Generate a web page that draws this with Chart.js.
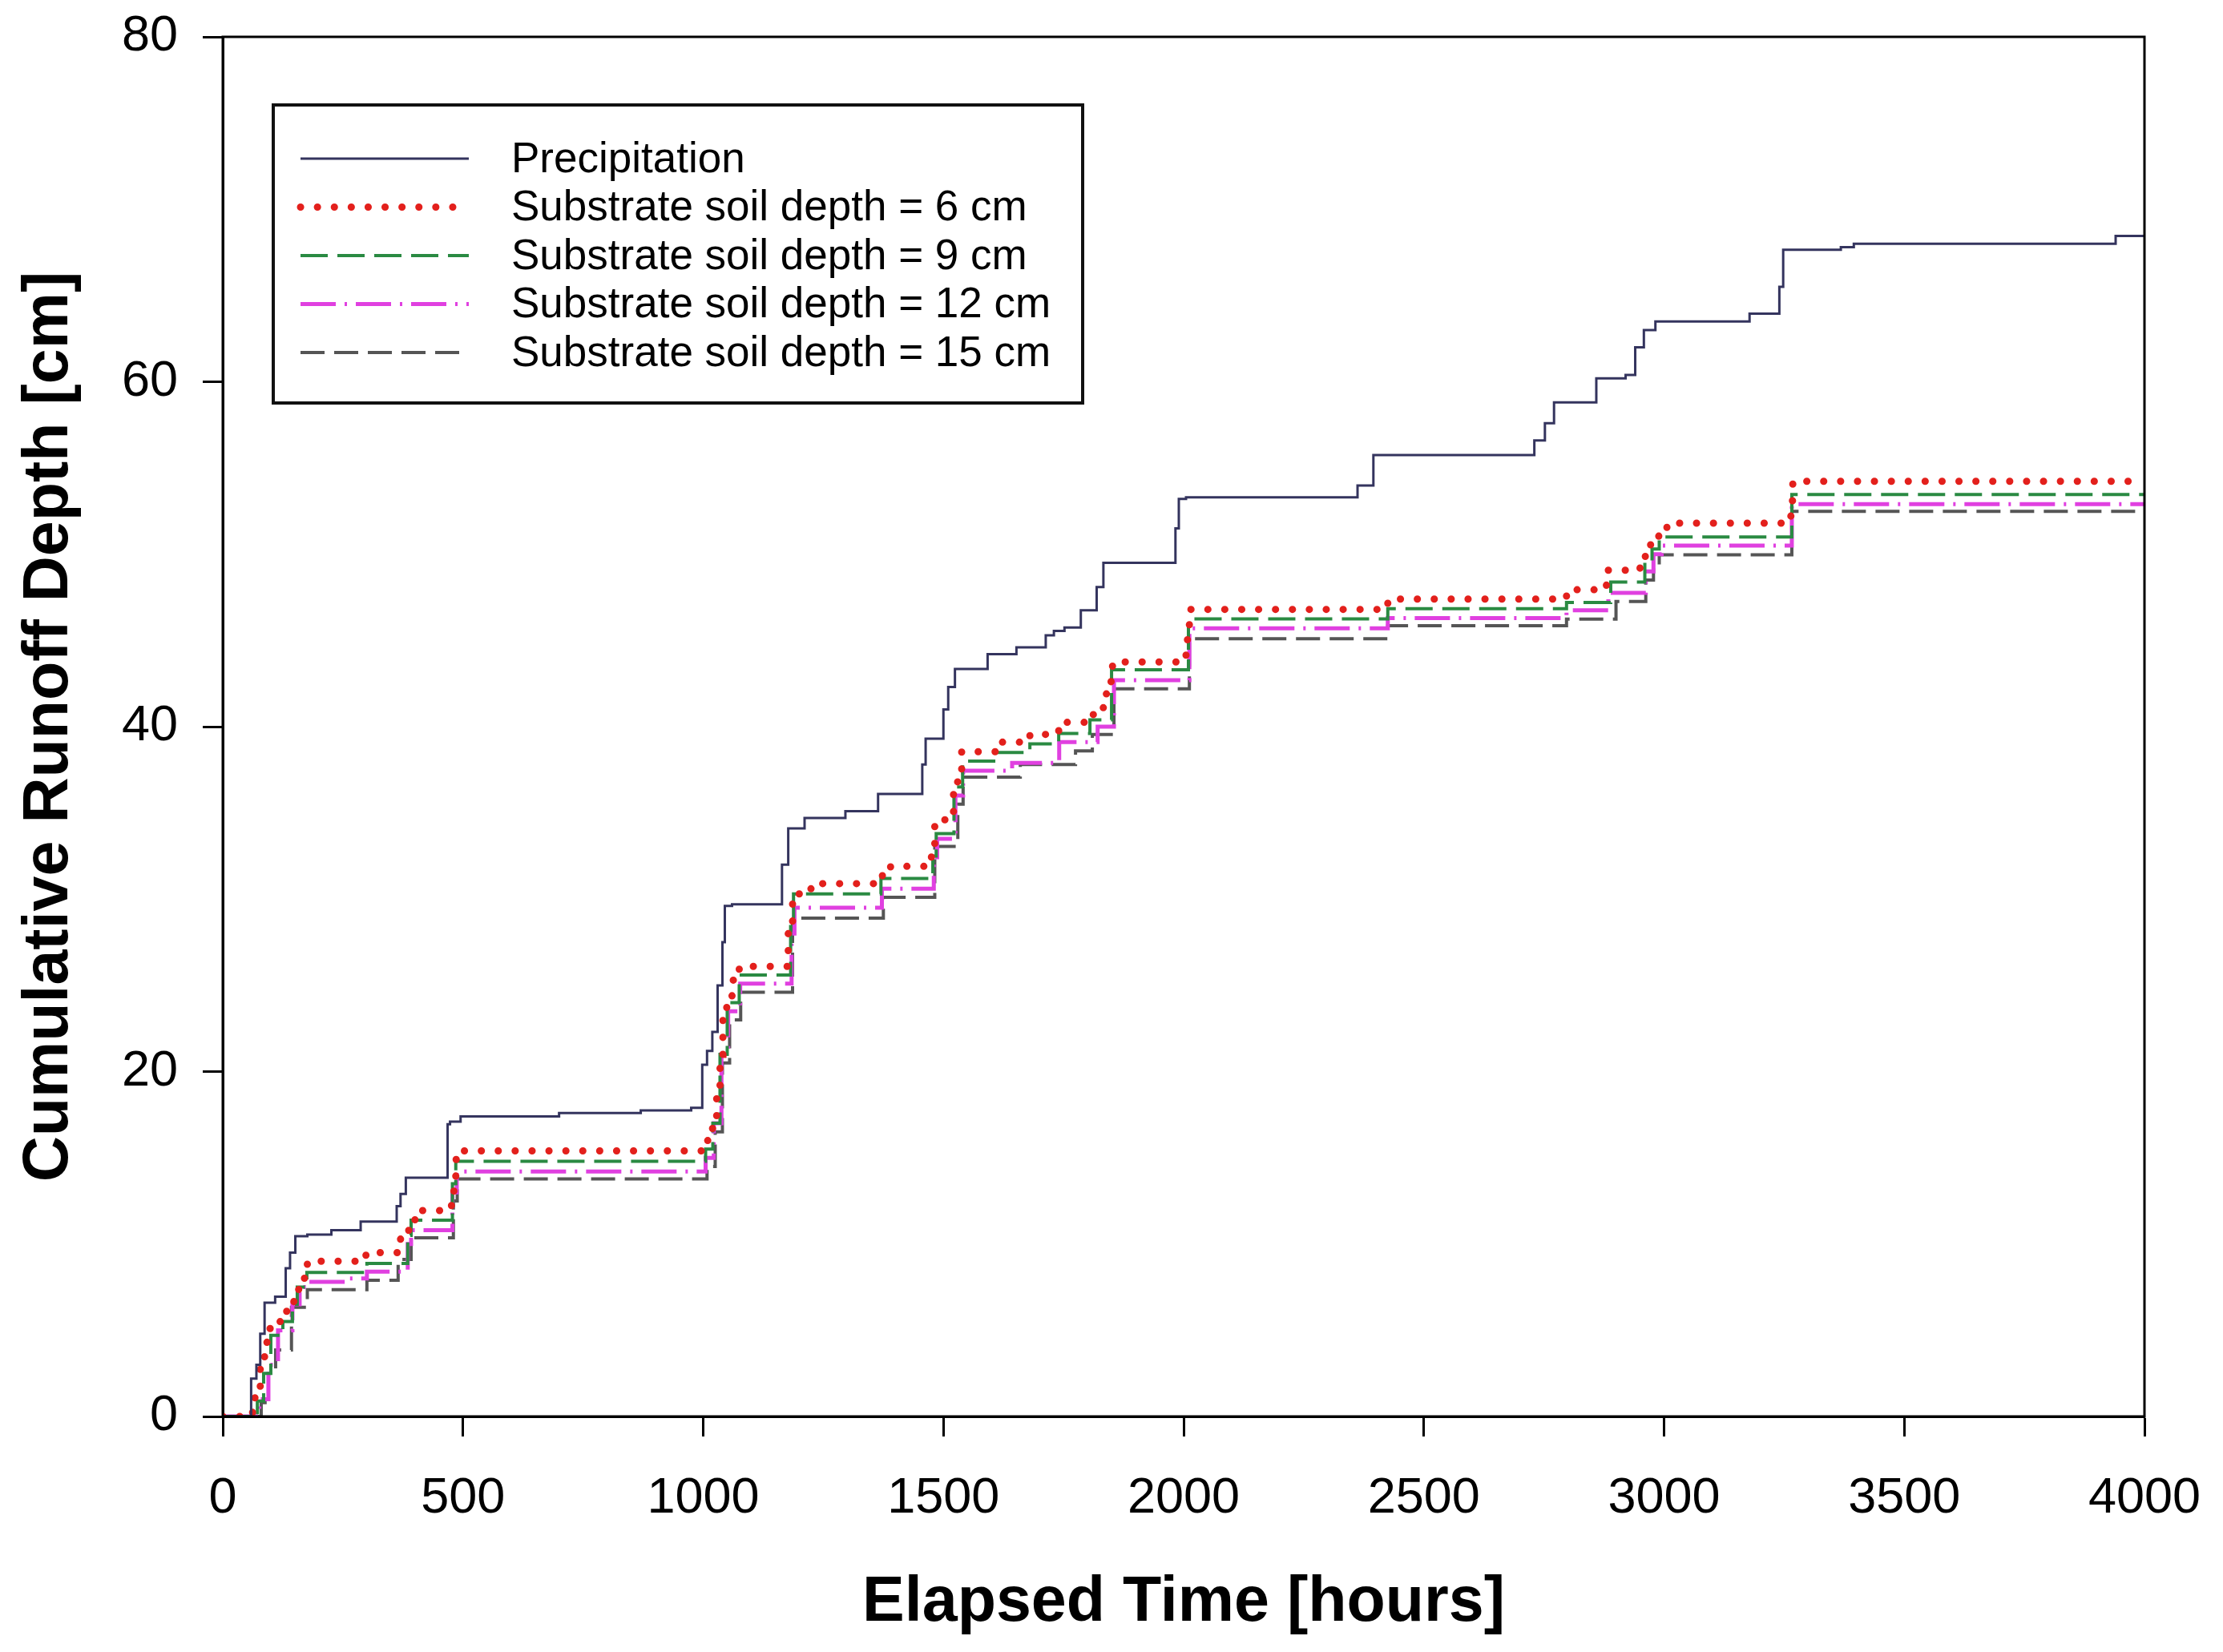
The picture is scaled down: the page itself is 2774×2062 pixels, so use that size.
<!DOCTYPE html>
<html>
<head>
<meta charset="utf-8">
<script src="https://cdn.jsdelivr.net/npm/chart.js@4.4.1/dist/chart.umd.min.js"></script>
<style>
html,body{margin:0;padding:0;background:#fff;}
canvas{display:block;}
</style>
</head>
<body>
<canvas id="c" width="2774" height="2062" style="width:2774px;height:2062px"></canvas>
<script>
// ---------------- DATA (elapsed time [h], cumulative depth [cm]) ----------------
const seriesLabels = [
  'Precipitation',
  'Substrate soil depth = 6 cm',
  'Substrate soil depth = 9 cm',
  'Substrate soil depth = 12 cm',
  'Substrate soil depth = 15 cm'
];

const precipT = [0,59,70,78,87,109,131,140,151,176,226,287,362,370,381,468,473,495,700,870,975,998,1008,1019,1030,1040,1045,1060,1164,1177,1211,1296,1364,1456,1463,1500,1510,1524,1592,1652,1713,1730,1752,1786,1819,1833,1983,1990,2005,2362,2395,2730,2752,2771,2859,2920,2940,2958,2982,3178,3240,3248,3368,3395,3940,4000];
const precipV = [0,2.2,3.0,4.8,6.6,6.95,8.6,9.5,10.45,10.55,10.8,11.3,12.2,12.9,13.85,16.95,17.1,17.4,17.6,17.75,17.9,20.4,21.2,22.3,25.0,27.5,29.6,29.7,32.0,34.1,34.7,35.1,36.1,37.8,39.3,41.0,42.3,43.35,44.2,44.6,45.3,45.55,45.75,46.75,48.1,49.5,51.5,53.2,53.3,53.98,55.75,56.6,57.6,58.8,60.2,60.4,62.0,63.0,63.5,63.95,65.5,67.65,67.8,68.0,68.45,68.45];

const d6T = [0,62,67,78,87,92,115,133,148,158,170,176,298,370,387,400,476,485,495,1005,1017,1028,1035,1041,1049,1060,1075,1177,1186,1211,1230,1373,1390,1475,1482,1521,1530,1538,1620,1680,1740,1805,1824,1838,1849,1852,2005,2008,2012,2425,2797,2880,2950,2961,2972,2989,3006,3264,3268,4000];
const d6V = [0,0.3,1.2,2.8,4.1,5.1,5.5,6.3,7.1,7.9,8.73,9.0,9.5,10.6,11.4,11.94,13.07,14.9,15.4,16.0,16.7,18.7,21.0,23.1,24.2,25.3,26.1,28.5,30.3,30.6,30.9,31.4,31.9,33.0,34.6,36.8,37.5,38.55,39.1,39.55,40.25,40.7,41.1,41.9,42.7,43.75,44.5,45.4,46.8,47.4,47.94,49.07,49.3,50.08,51.0,51.5,51.8,53.1,54.23,54.23];

const d9T = [0,72,85,100,125,145,155,175,300,385,392,478,485,1005,1020,1035,1050,1075,1182,1188,1370,1478,1485,1522,1540,1612,1680,1740,1805,1850,2010,2425,2797,2889,2960,2975,2990,3266,4000];
const d9V = [0,0.9,2.5,4.7,5.5,6.5,7.5,8.35,8.87,10.5,11.38,13.5,14.8,15.5,17.0,21.0,24.0,25.6,28.5,30.3,31.2,32.5,33.8,36.5,38.0,38.5,39.0,39.6,40.4,43.3,46.25,46.84,47.2,48.38,49.5,50.3,51.0,53.46,53.46];

const d12T = [0,76,95,115,145,160,180,255,300,385,392,478,487,1005,1022,1038,1052,1077,1184,1190,1372,1480,1487,1525,1541,1643,1741,1821,1855,2012,2425,2797,2884,2962,2978,2995,3266,4000];
const d12V = [0,1.0,3.0,5.0,6.5,7.5,7.8,8.0,8.4,10.0,10.8,13.0,14.2,15.0,17.0,21.0,23.5,25.1,28.0,29.5,30.6,32.0,33.5,36.0,37.45,37.9,39.1,40.0,42.7,45.7,46.3,46.75,47.76,49.0,50.0,50.5,52.9,52.9];

const d15T = [0,80,95,110,143,176,300,365,392,480,488,1008,1025,1040,1055,1078,1186,1375,1482,1530,1541,1660,1775,1810,1855,2012,2425,2797,2900,2962,2978,2990,3266,4000];
const d15V = [0,0.8,2.5,3.86,6.33,7.35,7.9,9.1,10.36,12.5,13.77,14.5,16.5,20.5,23.0,24.6,28.9,30.1,33.05,35.5,37.07,37.8,38.6,39.55,42.2,45.1,45.85,46.24,47.26,48.5,49.3,49.96,52.48,52.48];

const xTickValues = [0,500,1000,1500,2000,2500,3000,3500,4000];
const yTickValues = [0,20,40,60,80];
const xTitle = 'Elapsed Time [hours]';
const yTitle = 'Cumulative Runoff Depth [cm]';

// ---------------- build ----------------
const pts = (T, V) => T.map((t, i) => ({x: t, y: V[i]}));
const FONT = '"Liberation Sans", Arial, Helvetica, sans-serif';

const styles = [
  {borderColor:'#34345e', borderWidth:3, borderDash:[], borderCapStyle:'butt'},
  {borderColor:'#e3201c', borderWidth:9, borderDash:[0.1, 21], borderCapStyle:'round'},
  {borderColor:'#2a8a42', borderWidth:4, borderDash:[34, 12], borderCapStyle:'butt'},
  {borderColor:'#e040e0', borderWidth:5, borderDash:[44, 11, 3, 11], borderCapStyle:'butt'},
  {borderColor:'#555555', borderWidth:4, borderDash:[30, 12], borderCapStyle:'butt'}
];
const seriesData = [pts(precipT, precipV), pts(d6T, d6V), pts(d9T, d9V), pts(d12T, d12V), pts(d15T, d15V)];

const datasets = seriesLabels.map((lab, i) => Object.assign({
  label: lab,
  data: seriesData[i],
  stepped: true,
  pointRadius: 0,
  fill: false,
  tension: 0
}, styles[i]));

// frame (top/right box lines)
const framePlugin = {
  id: 'frame',
  afterDatasetsDraw(chart) {
    const {ctx, chartArea: a} = chart;
    ctx.save();
    ctx.strokeStyle = '#000';
    ctx.lineWidth = 3;
    ctx.strokeRect(a.left, a.top, a.right - a.left, a.bottom - a.top);
    ctx.restore();
  }
};

// legend box inside plot
const legendPlugin = {
  id: 'boxLegend',
  afterDraw(chart) {
    const ctx = chart.ctx;
    const box = {left: 341, top: 131, right: 1351, bottom: 503};
    ctx.save();
    ctx.fillStyle = '#fff';
    ctx.fillRect(box.left, box.top, box.right - box.left, box.bottom - box.top);
    ctx.strokeStyle = '#111';
    ctx.lineWidth = 4;
    ctx.strokeRect(box.left, box.top, box.right - box.left, box.bottom - box.top);
    chart.data.datasets.forEach((ds, i) => {
      const y = 198 + i * 60.5;
      ctx.beginPath();
      ctx.strokeStyle = ds.borderColor;
      ctx.lineWidth = ds.borderWidth;
      ctx.lineCap = ds.borderCapStyle;
      ctx.setLineDash(ds.borderDash);
      ctx.moveTo(375, y);
      ctx.lineTo(585, y);
      ctx.stroke();
      ctx.setLineDash([]);
      ctx.fillStyle = '#000';
      ctx.font = '53px ' + FONT;
      ctx.textBaseline = 'middle';
      ctx.textAlign = 'left';
      ctx.fillText(ds.label, 638, y + 2);
    });
    ctx.restore();
  }
};

const axisCommon = {
  type: 'linear',
  grid: {display: true, drawOnChartArea: false, drawTicks: true, tickLength: 25, tickWidth: 3, tickColor: '#000', color: '#000'},
  border: {display: true, width: 3, color: '#000'},
};

new Chart(document.getElementById('c'), {
  type: 'line',
  data: {datasets},
  options: {
    responsive: false,
    devicePixelRatio: 1,
    animation: false,
    layout: {padding: {left: 0, right: 98, top: 46, bottom: 0}},
    plugins: {legend: {display: false}, tooltip: {enabled: false}},
    scales: {
      x: Object.assign({}, axisCommon, {
        min: 0, max: 4000,
        afterBuildTicks: (s) => { s.ticks = xTickValues.map(v => ({value: v})); },
        afterFit: (s) => { s.height = 294; s.paddingLeft = 0; s.paddingRight = 0; s.paddingTop = 0; s.paddingBottom = 0; },
        ticks: {font: {family: FONT, size: 63}, color: '#000', padding: 40, maxRotation: 0, autoSkip: false,
                callback: (v) => String(v)},
        title: {display: true, text: xTitle, color: '#000', font: {family: FONT, size: 79, weight: 'bold'}, padding: {top: 0, bottom: 13}}
      }),
      y: Object.assign({}, axisCommon, {
        min: 0, max: 80,
        afterBuildTicks: (s) => { s.ticks = yTickValues.map(v => ({value: v})); },
        afterFit: (s) => { s.width = 278; s.paddingLeft = 0; s.paddingRight = 0; s.paddingTop = 0; s.paddingBottom = 0; },
        ticks: {font: {family: FONT, size: 63}, color: '#000', padding: 31, autoSkip: false,
                callback: (v) => String(v)},
        title: {display: true, text: yTitle, color: '#000', font: {family: FONT, size: 79, weight: 'bold'}, padding: {top: 15, bottom: 0}}
      })
    }
  },
  plugins: [framePlugin, legendPlugin]
});
</script>
</body>
</html>
